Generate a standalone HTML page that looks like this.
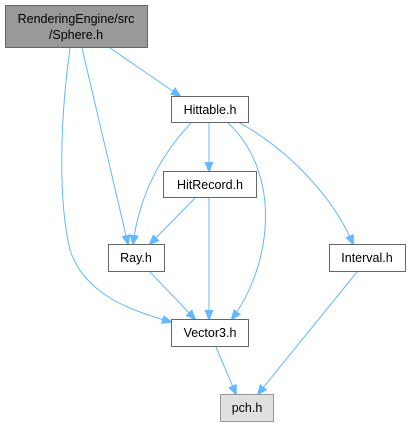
<!DOCTYPE html>
<html><head><style>body{margin:0;background:#fff}svg{display:block}text{font-family:"Liberation Sans",sans-serif;font-size:12.5px;fill:#000}</style></head><body>
<svg width="410" height="427" viewBox="0 0 410 427" xmlns="http://www.w3.org/2000/svg">
<defs><marker id="a" markerWidth="10" markerHeight="10" refX="9" refY="5" orient="auto" markerUnits="userSpaceOnUse"><path d="M0,1 L10,5 L0,9 Z" fill="#63b8ff" stroke="#63b8ff"/></marker></defs>
<g fill="none" stroke="#63b8ff" stroke-width="1" marker-end="url(#a)">
<path d="M110,48 L180,96"/>
<path d="M82,48 L128,244"/>
<path d="M70,48 C60,120 58,200 70,250 C85,295 130,310 171,322"/>
<path d="M209,122 L209,171"/>
<path d="M192,122 C165,150 140,190 133,244"/>
<path d="M227,122 C280,170 275,260 232,319"/>
<path d="M238,122 C290,150 335,200 353,244"/>
<path d="M196,197 L150,244"/>
<path d="M209,197 L209,319"/>
<path d="M150,272 L195,319"/>
<path d="M216,347 L236,394"/>
<path d="M357,272 L258,394"/>
</g>
<g stroke-width="1">
<rect x="5.5" y="5.5" width="142" height="42" fill="#999" stroke="#666"/>
<rect x="171.5" y="96.5" width="77" height="26" fill="#fff" stroke="#666"/>
<rect x="163.5" y="171.5" width="93" height="26" fill="#fff" stroke="#666"/>
<rect x="108.5" y="244.5" width="56" height="27" fill="#fff" stroke="#666"/>
<rect x="329.5" y="244.5" width="76" height="27" fill="#fff" stroke="#666"/>
<rect x="171.5" y="319.5" width="77" height="27" fill="#fff" stroke="#666"/>
<rect x="220.5" y="394.5" width="53" height="27" fill="#e0e0e0" stroke="#999"/>
</g>
<g text-anchor="middle">
<text x="76" y="23">RenderingEngine/src</text>
<text x="76" y="39">/Sphere.h</text>
<text x="210" y="114">Hittable.h</text>
<text x="210" y="189">HitRecord.h</text>
<text x="136" y="262">Ray.h</text>
<text x="367" y="262">Interval.h</text>
<text x="210" y="337">Vector3.h</text>
<text x="247" y="412">pch.h</text>
</g>
</svg>
</body></html>
